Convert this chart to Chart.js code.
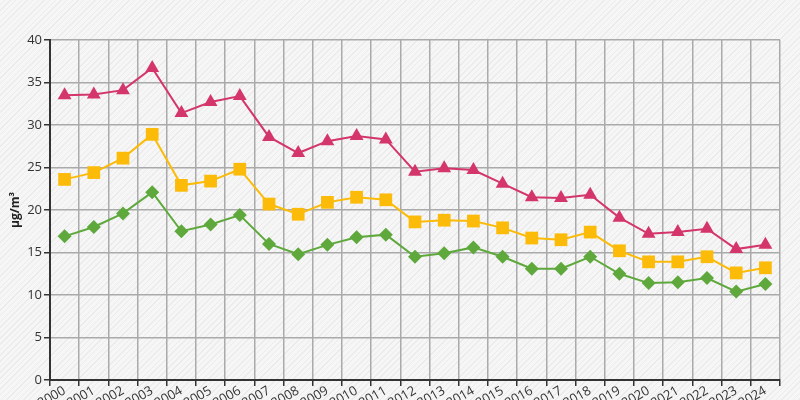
<!DOCTYPE html>
<html>
<head>
<meta charset="utf-8">
<script src="https://cdn.jsdelivr.net/npm/chart.js@4/dist/chart.umd.min.js"></script>
<style>
  html, body { margin: 0; padding: 0; overflow: hidden; }
  body {
    width: 800px; height: 400px;
    background: repeating-linear-gradient(135deg, #f6f6f6 0px, #f6f6f6 3px, #ebebeb 3px, #ebebeb 4px);
  }
  #wrap { width: 800px; height: 400px; position: relative; }
</style>
</head>
<body>
<div id="wrap"><canvas id="chart"></canvas></div>
<script>
// années
const years = ['2000','2001','2002','2003','2004','2005','2006','2007','2008','2009','2010','2011','2012',
  '2013','2014','2015','2016','2017','2018','2019','2020','2021','2022','2023','2024'];

// séries (µg/m³)
const serieRouge = [33.5, 33.6, 34.1, 36.7, 31.4, 32.7, 33.4, 28.6, 26.7, 28.1, 28.7, 28.3, 24.5,
  24.9, 24.7, 23.1, 21.5, 21.4, 21.8, 19.1, 17.2, 17.4, 17.8, 15.4, 15.9];
const serieJaune = [23.6, 24.4, 26.1, 28.9, 22.9, 23.4, 24.8, 20.7, 19.5, 20.9, 21.5, 21.2, 18.6,
  18.8, 18.7, 17.9, 16.7, 16.5, 17.4, 15.2, 13.9, 13.9, 14.5, 12.6, 13.2];
const serieVerte = [16.9, 18.0, 19.6, 22.1, 17.5, 18.3, 19.4, 16.0, 14.8, 15.9, 16.8, 17.1, 14.5,
  14.9, 15.6, 14.5, 13.1, 13.1, 14.5, 12.5, 11.4, 11.5, 12.0, 10.4, 11.3];

const yMin = 0, yMax = 40, yStep = 5;
const yTitle = 'µg/m³';

const ctx = document.getElementById('chart');

function serie(data, color, style, radius) {
  return {
    data: data,
    borderColor: color,
    backgroundColor: color,
    borderWidth: 2,
    pointStyle: style,
    pointRadius: radius,
    pointBorderWidth: 0,
    tension: 0
  };
}

new Chart(ctx, {
  type: 'line',
  data: {
    labels: years,
    datasets: [
      serie(serieRouge, '#d4356a', 'triangle', 8),
      serie(serieJaune, '#fbbb08', 'rect', 9),
      serie(serieVerte, '#5ea83c', 'rectRot', 7)
    ]
  },
  options: {
    responsive: true,
    maintainAspectRatio: false,
    animation: false,
    layout: { padding: { top: 40, right: 20, left: 0, bottom: 0 } },
    plugins: { legend: { display: false }, tooltip: { enabled: false } },
    scales: {
      x: {
        offset: true,
        grid: { offset: true, color: '#aaaaaa', lineWidth: 1.5, tickLength: 6, tickColor: '#333' },
        border: { color: '#333', width: 2 },
        ticks: {
          color: '#333', font: { family: 'Open Sans', size: 13 },
          minRotation: 30, maxRotation: 30, autoSkip: false, padding: -3
        },
        afterFit: function(scale) { scale.height = 20; }
      },
      y: {
        min: yMin, max: yMax,
        grid: { color: '#aaaaaa', lineWidth: 1.5, tickLength: 6, tickColor: '#333' },
        border: { color: '#333', width: 2 },
        ticks: { stepSize: yStep, color: '#333', font: { family: 'Open Sans', size: 13 }, padding: 2 },
        title: { display: true, text: yTitle, color: '#222', font: { family: 'Open Sans', size: 12, weight: 'bold' }, padding: { top: 8, bottom: 0 } },
        afterFit: function(scale) { scale.width = 50; }
      }
    }
  }
});
</script>
</body>
</html>
